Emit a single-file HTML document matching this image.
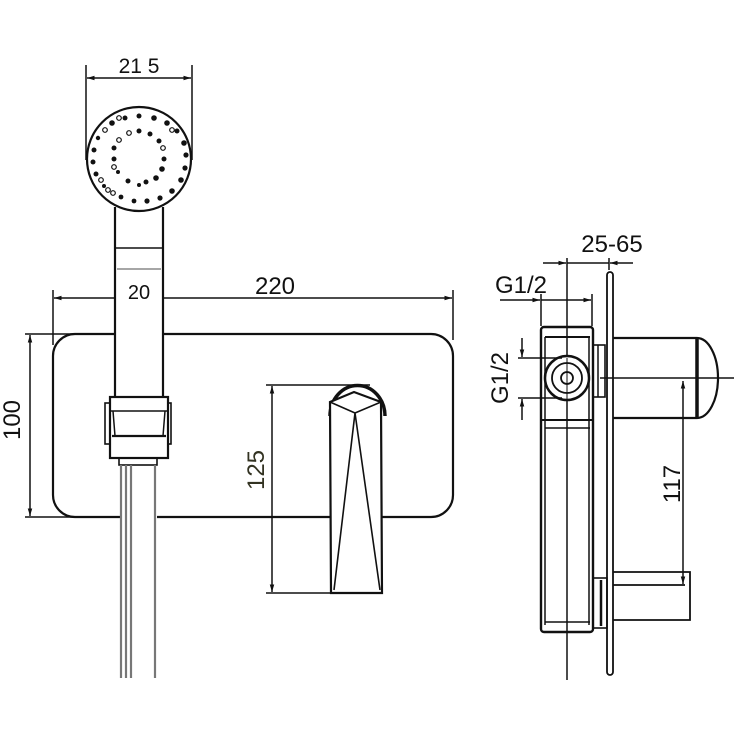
<!DOCTYPE html>
<html><head><meta charset="utf-8"><style>html,body{margin:0;padding:0;background:#fff}svg{display:block}text{font-family:"Liberation Sans",sans-serif;fill:#111}</style></head>
<body>
<svg width="734" height="734" viewBox="0 0 734 734" xmlns="http://www.w3.org/2000/svg">
<defs><marker id="a" viewBox="0 0 10 10" refX="10" refY="5" markerWidth="8" markerHeight="5" orient="auto-start-reverse"><path d="M0,2 L10,5 L0,8 z" fill="#111"/></marker></defs>
<g stroke="#111" fill="none" stroke-width="1.5">
<line x1="86" y1="65" x2="86" y2="160"/><line x1="192" y1="65" x2="192" y2="160"/>
<line x1="87" y1="78" x2="191" y2="78" marker-start="url(#a)" marker-end="url(#a)"/>
<circle cx="139" cy="159" r="52" stroke-width="2.2" fill="#fff"/>
<path d="M115,207 V398 M163,207 V398" stroke-width="2.2"/>
<line x1="115" y1="248" x2="163" y2="248"/>
<line x1="117" y1="269" x2="161" y2="269" stroke-width="0.8"/>
<line x1="53" y1="290" x2="53" y2="345"/><line x1="453" y1="290" x2="453" y2="340"/>
<line x1="54" y1="298" x2="115" y2="298" marker-start="url(#a)"/><line x1="163" y1="298" x2="452" y2="298" marker-end="url(#a)"/>
<path d="M75,334 H115 M163,334 H431 A22,22 0 0 1 453,356 V495 A22,22 0 0 1 431,517 H382 M330,517 H157 M120,517 H75 A22,22 0 0 1 53,495 V356 A22,22 0 0 1 75,334" stroke-width="2.2"/>
<line x1="25" y1="334" x2="75" y2="334"/><line x1="25" y1="517" x2="75" y2="517"/>
<line x1="30" y1="335" x2="30" y2="516" marker-start="url(#a)" marker-end="url(#a)"/>
<rect x="110" y="397" width="58" height="61" fill="#fff" stroke-width="2.2"/>
<rect x="105" y="403" width="5" height="41" stroke-width="1.6"/><rect x="168" y="403" width="3" height="41" stroke-width="1.6"/>
<line x1="110" y1="411" x2="168" y2="411"/><line x1="112" y1="436" x2="166" y2="436" stroke-width="2.2"/>
<path d="M113,411 L115,436 M165,411 L163,436"/>
<rect x="119" y="458" width="38" height="7" stroke-width="1.6"/>
<g stroke="#777" stroke-width="2.2"><line x1="121" y1="465" x2="121" y2="678"/><line x1="126" y1="465" x2="126" y2="678"/><line x1="131" y1="465" x2="131" y2="678"/><line x1="155" y1="465" x2="155" y2="678"/></g>
<line x1="266" y1="385" x2="370" y2="385"/><line x1="266" y1="593" x2="330" y2="593"/>
<line x1="272" y1="386" x2="272" y2="592" marker-start="url(#a)" marker-end="url(#a)"/>
<path d="M330,416 A27,30 0 0 1 385,416" stroke-width="3.5"/>
<path d="M330,402 L354,392 L381,402 L382,593 H331 Z" fill="#fff" stroke-width="2.2"/>
<path d="M330,402 L355,413 L381,402 M355,413 L334,590 M355,413 L380,590" stroke-width="1.6"/>
<line x1="567" y1="258" x2="567" y2="680"/><line x1="541" y1="294" x2="541" y2="326"/><line x1="592" y1="294" x2="592" y2="326"/>
<line x1="543" y1="263" x2="566" y2="263" marker-end="url(#a)"/><line x1="567" y1="263" x2="609" y2="263"/><line x1="633" y1="263" x2="610" y2="263" marker-end="url(#a)"/>
<line x1="609" y1="258" x2="609" y2="270"/>
<line x1="500" y1="300" x2="540" y2="300" marker-end="url(#a)"/><line x1="541" y1="300" x2="591" y2="300" marker-end="url(#a)"/>
<rect x="607" y="272" width="6" height="403" rx="3" fill="#fff" stroke-width="1.8"/>
<rect x="541" y="327" width="52" height="305" rx="3" stroke-width="2.4"/>
<line x1="545" y1="337" x2="590" y2="337" stroke-width="2"/><line x1="541" y1="420" x2="593" y2="420" stroke-width="2"/><line x1="545" y1="428" x2="590" y2="428"/>
<line x1="545" y1="337" x2="545" y2="625"/><line x1="589" y1="337" x2="589" y2="625"/><line x1="545" y1="622" x2="590" y2="622"/>
<circle cx="567" cy="378" r="22" stroke-width="2.5" fill="#fff"/><circle cx="567" cy="378" r="15" stroke-width="1.8"/><circle cx="567" cy="378" r="6" stroke-width="1.8"/>
<line x1="567" y1="358" x2="567" y2="400" stroke-width="1"/>
<rect x="593" y="345" width="12" height="52" stroke-width="1.6"/><line x1="598" y1="345" x2="598" y2="397"/>
<rect x="593" y="578" width="14" height="50" stroke-width="1.6"/><line x1="601" y1="580" x2="601" y2="626" stroke-width="2.5"/>
<path d="M613,338 H697 M613,418 H697 M697,338 A21,40 0 0 1 697,418" stroke-width="2.2"/>
<line x1="697" y1="338" x2="697" y2="418" stroke-width="3.5"/>
<line x1="600" y1="378" x2="734" y2="378"/>
<line x1="683" y1="381" x2="683" y2="584" marker-start="url(#a)" marker-end="url(#a)"/>
<path d="M613,572 H690 V620 H613 M613,585 H685" stroke-width="1.8"/>
<line x1="518" y1="358" x2="562" y2="358"/><line x1="518" y1="398" x2="562" y2="398"/>
<line x1="522" y1="338" x2="522" y2="357" marker-end="url(#a)"/><line x1="522" y1="420" x2="522" y2="399" marker-end="url(#a)"/>
</g>
<text x="139" y="73" font-size="21" text-anchor="middle">21 5</text>
<text x="139" y="299" font-size="20" text-anchor="middle">20</text>
<text x="275" y="294" font-size="24" text-anchor="middle">220</text>
<text transform="translate(20,420) rotate(-90)" font-size="24" text-anchor="middle">100</text>
<text transform="translate(264,470) rotate(-90)" font-size="24" text-anchor="middle" style="fill:#332">125</text>
<text x="612" y="252" font-size="24" text-anchor="middle">25-65</text>
<text x="521" y="293" font-size="24" text-anchor="middle">G1/2</text>
<text transform="translate(508,378) rotate(-90)" font-size="24" text-anchor="middle">G1/2</text>
<text transform="translate(680,484) rotate(-90)" font-size="24" text-anchor="middle">117</text>
<g fill="#111">
<circle cx="139" cy="116" r="2.5"/><circle cx="154" cy="118" r="2.8"/><circle cx="167" cy="123" r="2.8"/><circle cx="177" cy="131" r="2.5"/><circle cx="184" cy="143" r="2.8"/><circle cx="186" cy="155" r="2.6"/><circle cx="185" cy="168" r="2.6"/><circle cx="181" cy="180" r="2.8"/><circle cx="172" cy="191" r="2.8"/><circle cx="160" cy="198" r="2.6"/><circle cx="147" cy="201" r="2.6"/><circle cx="134" cy="201" r="2.4"/><circle cx="121" cy="197" r="2.4"/><circle cx="104" cy="186" r="2"/><circle cx="96" cy="174" r="2.5"/><circle cx="93" cy="162" r="2.5"/><circle cx="94" cy="150" r="2.5"/><circle cx="98" cy="138" r="2.2"/><circle cx="112" cy="123" r="2.8"/><circle cx="125" cy="118" r="2.5"/>
<circle cx="139" cy="131" r="2.5"/><circle cx="150" cy="134" r="2.5"/><circle cx="159" cy="141" r="2.5"/><circle cx="164" cy="159" r="2.5"/><circle cx="162" cy="169" r="2.8"/><circle cx="156" cy="178" r="2.8"/><circle cx="146" cy="182" r="2.5"/><circle cx="139" cy="185" r="2"/><circle cx="128" cy="181" r="2.5"/><circle cx="118" cy="172" r="2"/><circle cx="114" cy="159" r="2.5"/><circle cx="114" cy="148" r="2.5"/>
</g>
<g fill="none" stroke="#111" stroke-width="1.2">
<circle cx="119" cy="118" r="2.3"/><circle cx="105" cy="130" r="2.3"/><circle cx="101" cy="180" r="2.3"/><circle cx="108" cy="190" r="2.3"/><circle cx="113" cy="193" r="2.3"/><circle cx="129" cy="133" r="2.3"/><circle cx="119" cy="140" r="2.3"/><circle cx="163" cy="148" r="2.3"/><circle cx="114" cy="167" r="2.3"/><circle cx="172" cy="130" r="2.3"/>
</g>
</svg>
</body></html>
